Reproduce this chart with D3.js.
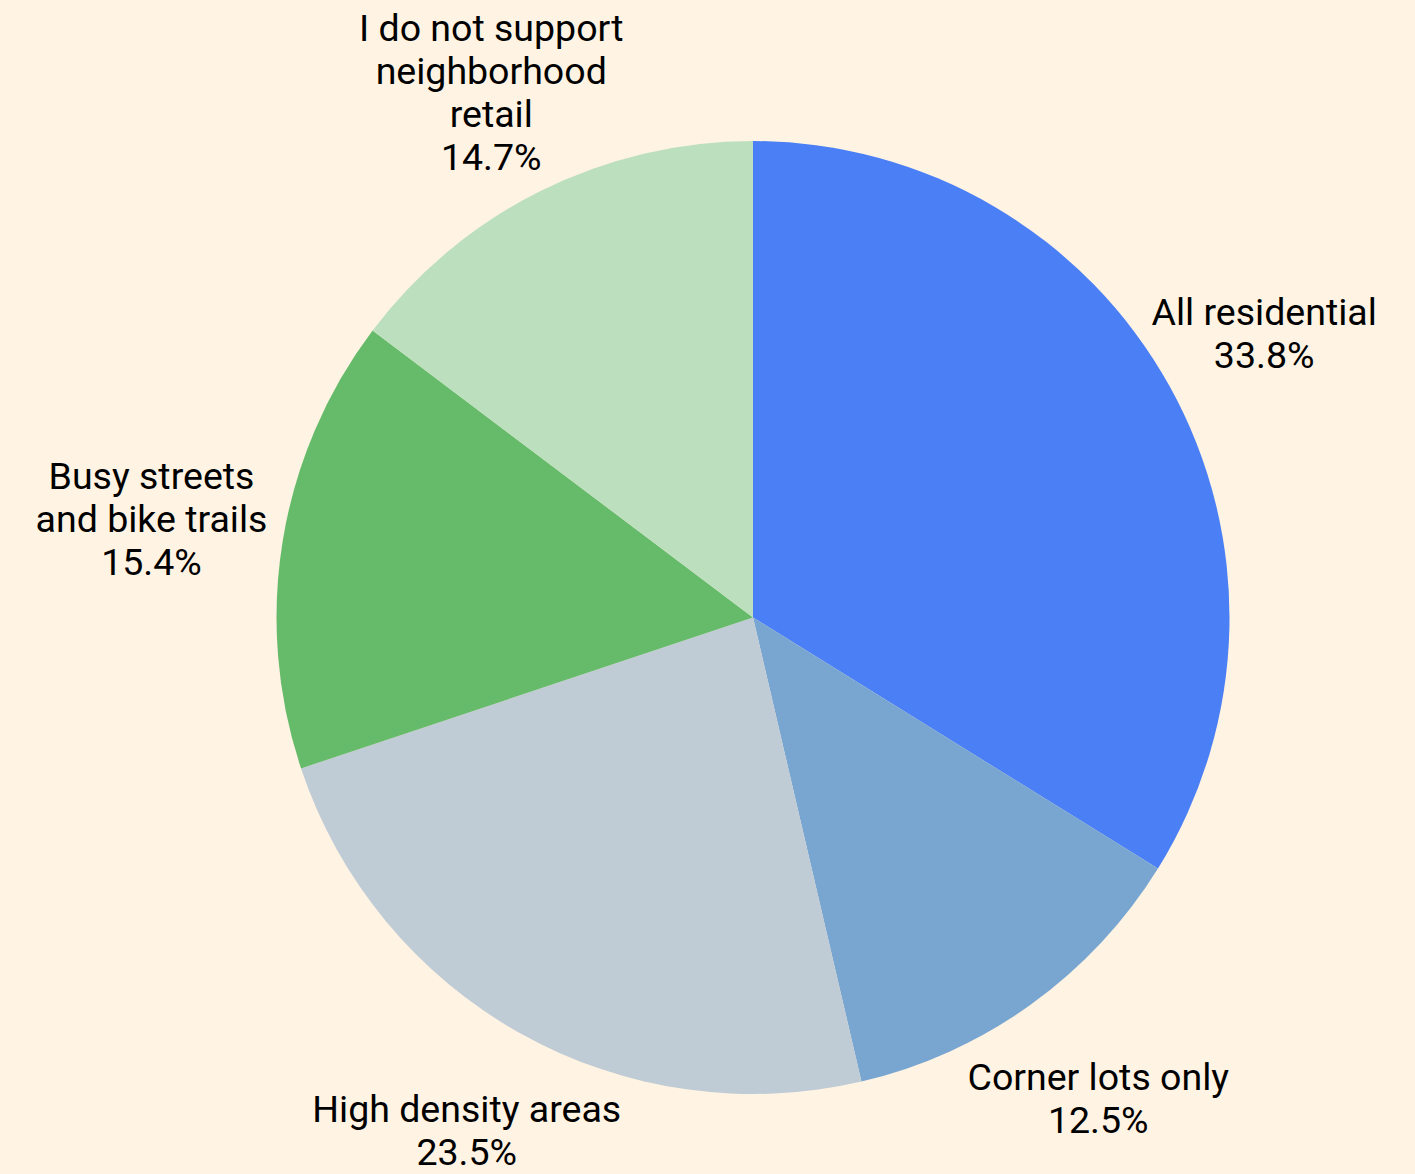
<!DOCTYPE html>
<html>
<head>
<meta charset="utf-8">
<script src="https://cdn.jsdelivr.net/npm/d3@7"></script>
<style>
  html, body { margin: 0; padding: 0; background: #fff3e3; }
  svg { display: block; }
</style>
</head>
<body>
<svg id="chart" width="1415" height="1174"></svg>
<script>
// Where should neighborhood retail be allowed? (share of responses)
const categories = [
  "All residential",
  "Corner lots only",
  "High density areas",
  "Busy streets\nand bike trails",
  "I do not support\nneighborhood\nretail"
];
const values = [33.8, 12.5, 23.5, 15.4, 14.7];
const colors = ["#4a7ff5", "#78a6d1", "#bfcbd5", "#66bb6a", "#bcdfbe"];

const width = 1415, height = 1174;
const cx = 753, cy = 617.5, radius = 476.5;
const fontSize = 37.5, lineHeight = 43;
const lineHalfHeight = 16;   // visual half-height of one text line
const labelGap = 16;         // clearance between label lines and the pie edge

const svg = d3.select("#chart");
svg.append("rect").attr("width", width).attr("height", height).attr("fill", "#fff3e3");

const data = categories.map((c, i) => ({ label: c, value: values[i], color: colors[i] }));

const pie = d3.pie().sort(null).value(d => d.value);
const arc = d3.arc().innerRadius(0).outerRadius(radius);
const arcs = pie(data);

const g = svg.append("g").attr("transform", `translate(${cx},${cy})`);

g.selectAll("path.slice")
  .data(arcs)
  .join("path")
  .attr("class", "slice")
  .attr("d", arc)
  .attr("fill", d => d.data.color);

const labels = g.selectAll("text.label")
  .data(arcs)
  .join("text")
  .attr("class", "label")
  .attr("text-anchor", "middle")
  .attr("font-family", "Roboto, 'Noto Sans', sans-serif")
  .attr("font-size", fontSize)
  .attr("fill", "#000");

// distance from the pie centre to the nearest point of an axis-aligned box
function boxDistance(x0, y0, x1, y1) {
  const dx = Math.max(x0, 0, -x1);
  const dy = Math.max(y0, 0, -y1);
  return Math.hypot(dx, dy);
}

labels.each(function(d) {
  const lines = d.data.label.split("\n").concat([d.data.value.toFixed(1) + "%"]);
  const t = d3.select(this);
  const spans = lines.map(ln => t.append("tspan").attr("dy", "0.35em").text(ln));
  const widths = spans.map(s => s.node().getComputedTextLength());
  const n = lines.length;
  const mid = (d.startAngle + d.endAngle) / 2;
  const ux = Math.sin(mid), uy = -Math.cos(mid);

  // slide the label outward along the slice bisector until it clears the pie
  let rho = radius;
  for (; rho < radius * 2; rho += 0.5) {
    const x = ux * rho, y = uy * rho;
    let minD = Infinity;
    widths.forEach((w, i) => {
      const ly = y + (i - (n - 1) / 2) * lineHeight;
      minD = Math.min(minD, boxDistance(x - w / 2, ly - lineHalfHeight, x + w / 2, ly + lineHalfHeight));
    });
    if (minD >= radius + labelGap) break;
  }
  const x = ux * rho, y = uy * rho;
  spans.forEach((s, i) => {
    s.attr("x", x).attr("y", y + (i - (n - 1) / 2) * lineHeight);
  });
});
</script>
</body>
</html>
